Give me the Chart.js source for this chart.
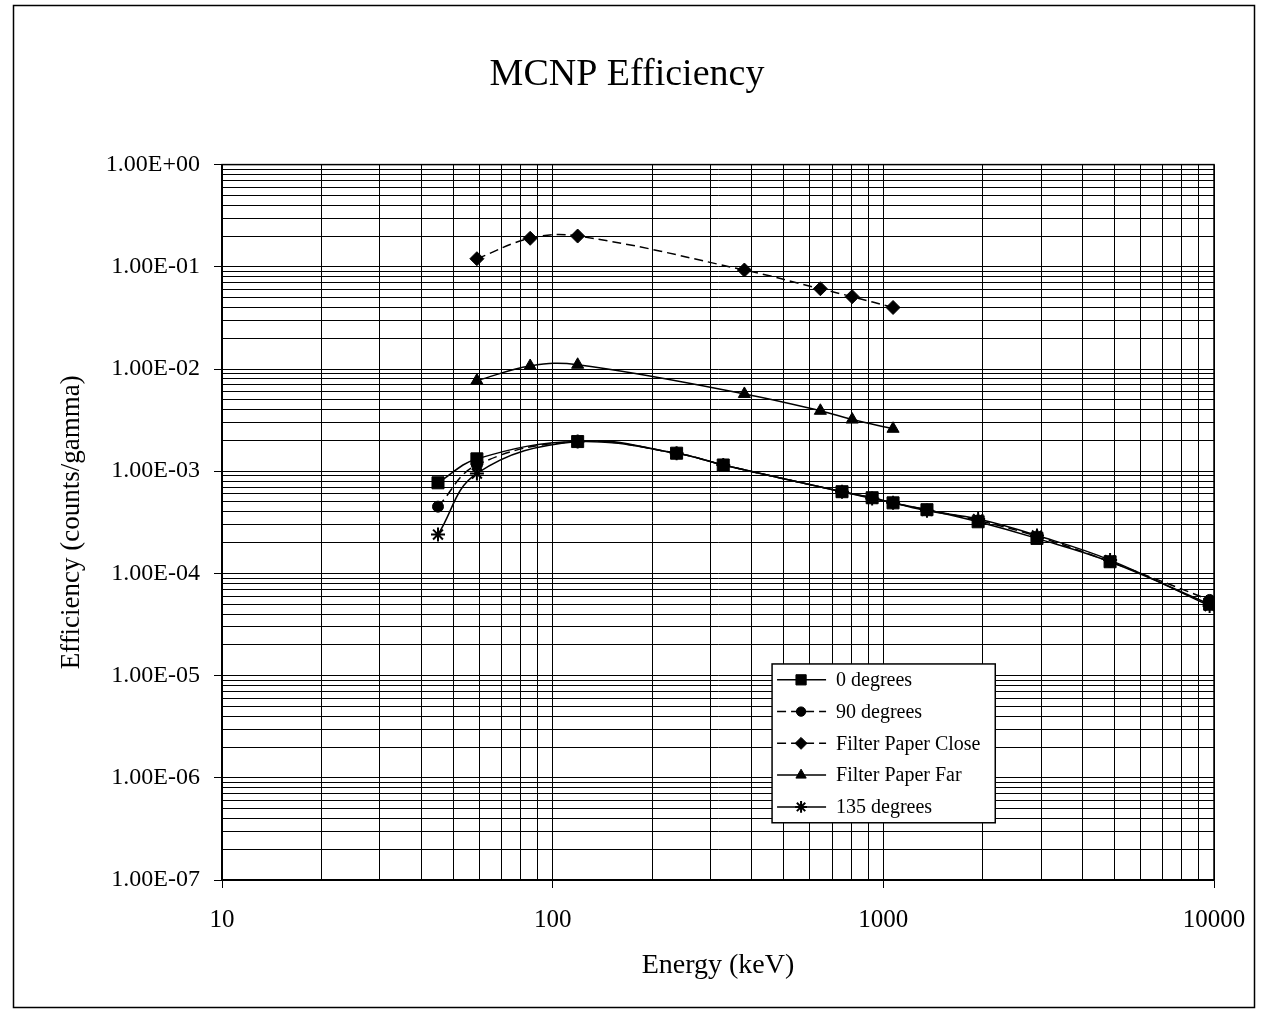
<!DOCTYPE html>
<html><head><meta charset="utf-8">
<script src="https://cdn.jsdelivr.net/npm/chart.js@4.4.1/dist/chart.umd.min.js"></script>
<style>html,body{margin:0;padding:0;background:#fff;}#wrap{width:1263px;height:1013px;position:relative;}</style>
</head><body><div id="wrap"><canvas id="c" width="1263" height="1013"></canvas></div>
<script>
// ---- data ----
const energyCal = [45, 59, 119, 237, 328, 750, 925, 1070, 1355, 1935, 2915, 4850, 9700];
const energyFilter = [59, 85.5, 119, 380, 645, 805, 1070];
const eff0deg = [7.7e-4, 1.32e-3, 1.95e-3, 1.5e-3, 1.15e-3, 6.3e-4, 5.5e-4, 4.9e-4, 4.2e-4, 3.2e-4, 2.2e-4, 1.3e-4, 5.0e-5];
const eff90deg = [4.5e-4, 1.15e-3, 1.95e-3, 1.5e-3, 1.15e-3, 6.3e-4, 5.5e-4, 4.9e-4, 4.2e-4, 3.3e-4, 2.3e-4, 1.3e-4, 5.5e-5];
const eff135deg = [2.4e-4, 9.5e-4, 1.95e-3, 1.5e-3, 1.15e-3, 6.3e-4, 5.4e-4, 4.9e-4, 4.1e-4, 3.4e-4, 2.35e-4, 1.35e-4, 4.8e-5];
const effFilterClose = [0.12, 0.19, 0.20, 0.093, 0.061, 0.051, 0.040];
const effFilterFar = [0.0077, 0.0107, 0.011, 0.0057, 0.0039, 0.0032, 0.0026];
const seriesNames = ['0 degrees', '90 degrees', 'Filter Paper Close', 'Filter Paper Far', '135 degrees'];
const xMajorTicks = [10, 100, 1000, 10000];
const yMajorTicks = [1e-7, 1e-6, 1e-5, 1e-4, 1e-3, 1e-2, 1e-1, 1];
const titleText = 'MCNP Efficiency';
const xTitle = 'Energy (keV)';
const yTitle = 'Efficiency (counts/gamma)';

function withMinors(majors) {
  const out = [];
  for (let i = 0; i < majors.length - 1; i++) {
    for (let k = 1; k <= 9; k++) out.push(k * majors[i]);
  }
  out.push(majors[majors.length - 1]);
  return out;
}
const xTickValues = withMinors(xMajorTicks);
const yTickValues = withMinors(yMajorTicks);
function isPow10(v) { const l = Math.log10(v); return Math.abs(l - Math.round(l)) < 1e-9; }
function fmtSci(v) {
  const e = Math.round(Math.log10(v));
  return '1.00E' + (e < 0 ? '-' : '+') + String(Math.abs(e)).padStart(2, '0');
}
function pts(xs, ys) { return xs.map((x, i) => ({ x: x, y: ys[i] })); }

const FONT = "'Liberation Serif', 'Times New Roman', serif";
Chart.defaults.font.family = FONT;
Chart.defaults.color = '#000';

const base = { borderColor: '#000', backgroundColor: '#000', borderWidth: 1.5, tension: 0.4, fill: false, pointBorderWidth: 1 };
const datasets = [
  Object.assign({}, base, { label: seriesNames[0], data: pts(energyCal, eff0deg), pointStyle: 'rect', pointRadius: 8.5 }),
  Object.assign({}, base, { label: seriesNames[1], data: pts(energyCal, eff90deg), pointStyle: 'circle', pointRadius: 5.5, borderDash: [9, 5] }),
  Object.assign({}, base, { label: seriesNames[2], data: pts(energyFilter, effFilterClose), pointStyle: 'rectRot', pointRadius: 7, borderDash: [9, 5] }),
  Object.assign({}, base, { label: seriesNames[3], data: pts(energyFilter, effFilterFar), pointStyle: 'triangle', pointRadius: 7 }),
  Object.assign({}, base, { label: seriesNames[4], data: pts(energyCal, eff135deg), pointStyle: 'star', pointRadius: 7, pointBorderWidth: 2 })
];

const frame = {
  id: 'frame',
  afterDraw(chart) {
    const ctx = chart.ctx;
    ctx.save();
    ctx.strokeStyle = '#000';
    ctx.lineWidth = 1.5;
    ctx.strokeRect(13.5, 5.5, chart.width - 22, chart.height - 11);
    const ca = chart.chartArea;
    ctx.strokeRect(ca.left, ca.top, ca.right - ca.left, ca.bottom - ca.top);
    ctx.restore();
  }
};

const customLegend = {
  id: 'customLegend',
  afterDraw(chart) {
    const ctx = chart.ctx;
    const ca = chart.chartArea;
    const w = ca.right - ca.left, h = ca.bottom - ca.top;
    const bx = ca.left + w * 0.5545, by = ca.top + h * 0.698;
    const bw = w * 0.225, bh = h * 0.222;
    ctx.save();
    ctx.fillStyle = '#fff';
    ctx.fillRect(bx, by, bw, bh);
    ctx.strokeStyle = '#000';
    ctx.lineWidth = 1.5;
    ctx.strokeRect(bx, by, bw, bh);
    const rowH = bh / chart.data.datasets.length;
    ctx.font = '20px ' + FONT;
    ctx.textBaseline = 'middle';
    ctx.textAlign = 'left';
    chart.data.datasets.forEach((ds, i) => {
      const cy = by + rowH * (i + 0.5);
      ctx.strokeStyle = '#000';
      ctx.lineWidth = ds.borderWidth;
      ctx.setLineDash(ds.borderDash || []);
      ctx.beginPath();
      ctx.moveTo(bx + 5, cy);
      ctx.lineTo(bx + 54, cy);
      ctx.stroke();
      ctx.setLineDash([]);
      ctx.fillStyle = '#000';
      ctx.lineWidth = ds.pointBorderWidth;
      Chart.helpers.drawPoint(ctx, { pointStyle: ds.pointStyle, radius: ds.pointRadius * 0.85, rotation: 0, borderWidth: ds.pointBorderWidth }, bx + 29, cy);
      ctx.fillStyle = '#000';
      ctx.fillText(ds.label, bx + 64, cy + 1);
    });
    ctx.restore();
  }
};

new Chart(document.getElementById('c'), {
  type: 'line',
  data: { datasets: datasets },
  plugins: [frame, customLegend],
  options: {
    responsive: false,
    animation: false,
    layout: { padding: { left: 40, right: 49, top: 0, bottom: 20 } },
    plugins: {
      legend: { display: false },
      tooltip: { enabled: false },
      title: { display: true, text: titleText, color: '#000', font: { size: 38, weight: 'normal' }, padding: { top: 52, bottom: 67 } }
    },
    scales: {
      x: {
        type: 'logarithmic', min: 10, max: 10000, position: 'bottom',
        afterBuildTicks: s => { s.ticks = xTickValues.map(v => ({ value: v, major: isPow10(v) })); },
        afterFit: s => { s.height = 113; },
        ticks: { autoSkip: false, maxRotation: 0, padding: 17, font: { size: 25 }, color: '#000',
          callback: v => isPow10(v) ? String(Math.round(v)) : '' },
        grid: { color: '#000', lineWidth: 1, drawTicks: true, tickLength: 8,
          tickColor: c => (c.tick && isPow10(c.tick.value)) ? '#000' : 'rgba(0,0,0,0)' },
        border: { color: '#000', width: 1.5 },
        title: { display: true, text: xTitle, color: '#000', font: { size: 28 }, padding: { top: 0, bottom: 11 } }
      },
      y: {
        type: 'logarithmic', min: 1e-7, max: 1, position: 'left',
        afterBuildTicks: s => { s.ticks = yTickValues.map(v => ({ value: v, major: isPow10(v) })); },
        afterFit: s => { s.width = 182; },
        ticks: { autoSkip: false, padding: 14, font: { size: 24 }, color: '#000',
          callback: v => isPow10(v) ? fmtSci(v) : '' },
        grid: { color: '#000', lineWidth: 1, drawTicks: true, tickLength: 8,
          tickColor: c => (c.tick && isPow10(c.tick.value)) ? '#000' : 'rgba(0,0,0,0)' },
        border: { color: '#000', width: 1.5 },
        title: { display: true, text: yTitle, color: '#000', font: { size: 27 }, padding: { top: 16, bottom: 0 } }
      }
    }
  }
});
</script></body></html>
